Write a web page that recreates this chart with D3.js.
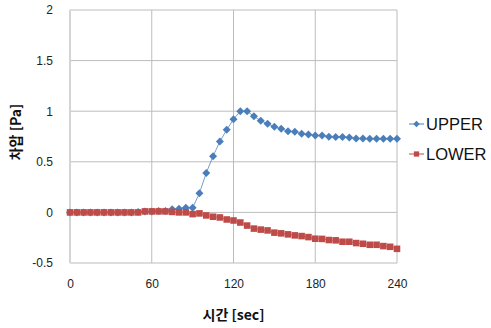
<!DOCTYPE html>
<html>
<head>
<meta charset="utf-8">
<script src="https://cdn.jsdelivr.net/npm/d3@7"></script>
<style>
  body { margin: 0; background: #fff; }
  svg { display: block; font-family: "Liberation Sans", Arial, sans-serif; }
</style>
</head>
<body>
<div id="chart"></div>
<script>
// time axis, one sample every 5 s
const times = [0, 5, 10, 15, 20, 25, 30, 35, 40, 45, 50, 55, 60, 65, 70, 75, 80, 85, 90, 95,
  100, 105, 110, 115, 120, 125, 130, 135, 140, 145, 150, 155, 160, 165, 170, 175, 180, 185, 190, 195,
  200, 205, 210, 215, 220, 225, 230, 235, 240];

const upper = [0, 0, 0, 0, 0, 0, 0, 0, 0, 0, 0.005, 0.01, 0.01, 0.015, 0.015, 0.03, 0.035, 0.045, 0.045, 0.19,
  0.39, 0.556, 0.70, 0.816, 0.92, 1.0, 1.0, 0.95, 0.905, 0.876, 0.846, 0.826, 0.803, 0.797, 0.777, 0.77, 0.76, 0.76, 0.747, 0.745,
  0.745, 0.74, 0.73, 0.73, 0.728, 0.728, 0.727, 0.727, 0.727];

const lower = [0, 0, 0, 0, 0, 0, 0, 0, 0, 0, 0, 0.01, 0.01, 0.01, 0.01, 0.005, 0, 0, -0.017, -0.01,
  -0.03, -0.043, -0.05, -0.07, -0.08, -0.10, -0.13, -0.16, -0.17, -0.178, -0.20, -0.207, -0.217, -0.227, -0.234, -0.244, -0.26, -0.262, -0.273, -0.276,
  -0.29, -0.29, -0.303, -0.31, -0.32, -0.32, -0.333, -0.34, -0.36];

const seriesNames = ["UPPER", "LOWER"];
const xTicks = [0, 60, 120, 180, 240];
const yTicks = [-0.5, 0, 0.5, 1, 1.5, 2];

const width = 491, height = 328;
const margin = {left: 70, right: 94, top: 10, bottom: 65};

const svg = d3.select("#chart").append("svg")
  .attr("width", width)
  .attr("height", height);

const x = d3.scaleLinear().domain([0, 240]).range([margin.left, width - margin.right]);
const y = d3.scaleLinear().domain([-0.5, 2]).range([height - margin.bottom, margin.top]);

const colors = {UPPER: "#4a7ebb", LOWER: "#be4b48"};

// Excel-style markers: diamond = rotated square, plain square
function marker(name, r) {
  if (name === "UPPER") return `M0,${-r}L${r},0L0,${r}L${-r},0Z`;
  const s = r * 0.82;
  return `M${-s},${-s}H${s}V${s}H${-s}Z`;
}

// gridlines
svg.append("g")
  .selectAll("line")
  .data(yTicks)
  .join("line")
  .attr("x1", x(0)).attr("x2", x(240))
  .attr("y1", d => y(d)).attr("y2", d => y(d))
  .attr("stroke", "#bcbcbc").attr("stroke-width", 1);

svg.append("g")
  .selectAll("line")
  .data(xTicks)
  .join("line")
  .attr("x1", d => x(d)).attr("x2", d => x(d))
  .attr("y1", y(-0.5)).attr("y2", y(2))
  .attr("stroke", d => d === 0 ? "#d4d4d4" : "#bcbcbc")
  .attr("stroke-width", d => d === 0 ? 2 : 1);

// axes (labels only)
const xAxis = svg.append("g")
  .attr("transform", `translate(0,${y(-0.5) + 13})`)
  .call(d3.axisBottom(x).tickValues(xTicks).tickSize(0).tickFormat(d3.format("d")));
xAxis.select(".domain").remove();
xAxis.selectAll("text").attr("font-size", 12).attr("fill", "#222").attr("font-family", "Liberation Sans, Arial, sans-serif");

const yAxis = svg.append("g")
  .attr("transform", `translate(${x(0) - 14},0)`)
  .call(d3.axisLeft(y).tickValues(yTicks).tickSize(0).tickFormat(d => String(d)));
yAxis.select(".domain").remove();
yAxis.selectAll("text").attr("font-size", 12).attr("fill", "#222").attr("font-family", "Liberation Sans, Arial, sans-serif");

// series
const data = {UPPER: upper, LOWER: lower};
const line = d3.line().x((d, i) => x(times[i])).y(d => y(d));

seriesNames.forEach(name => {
  const vals = data[name];
  svg.append("path")
    .datum(vals)
    .attr("fill", "none")
    .attr("stroke", colors[name])
    .attr("stroke-opacity", 0.75)
    .attr("stroke-width", 1)
    .attr("d", line);

  svg.append("g")
    .selectAll("path")
    .data(vals)
    .join("path")
    .attr("transform", (d, i) => `translate(${x(times[i])},${y(d)})`)
    .attr("d", marker(name, 4))
    .attr("fill", colors[name]);
});

// legend
const legend = svg.append("g");
seriesNames.forEach((name, i) => {
  const cy = 124 + i * 30;
  legend.append("line")
    .attr("x1", 409).attr("x2", 424)
    .attr("y1", cy).attr("y2", cy)
    .attr("stroke", colors[name]).attr("stroke-width", 1);
  legend.append("path")
    .attr("transform", `translate(416.5,${cy})`)
    .attr("d", marker(name, 3.2))
    .attr("fill", colors[name]);
  legend.append("text")
    .attr("x", 426).attr("y", cy + 6)
    .attr("font-size", 16.5)
    .attr("fill", "#111")
    .text(name);
});

// axis titles
svg.append("text")
  .attr("x", (x(0) + x(240)) / 2)
  .attr("y", 320)
  .attr("text-anchor", "middle")
  .attr("font-family", "Noto Sans CJK KR, sans-serif")
  .attr("font-weight", "bold")
  .attr("font-size", 14)
  .attr("fill", "#111")
  .text("시간 [sec]");

svg.append("text")
  .attr("transform", `translate(21,132) rotate(-90)`)
  .attr("text-anchor", "middle")
  .attr("font-family", "Noto Sans CJK KR, sans-serif")
  .attr("font-weight", "bold")
  .attr("font-size", 14)
  .attr("fill", "#111")
  .text("차압 [Pa]");
</script>
</body>
</html>
